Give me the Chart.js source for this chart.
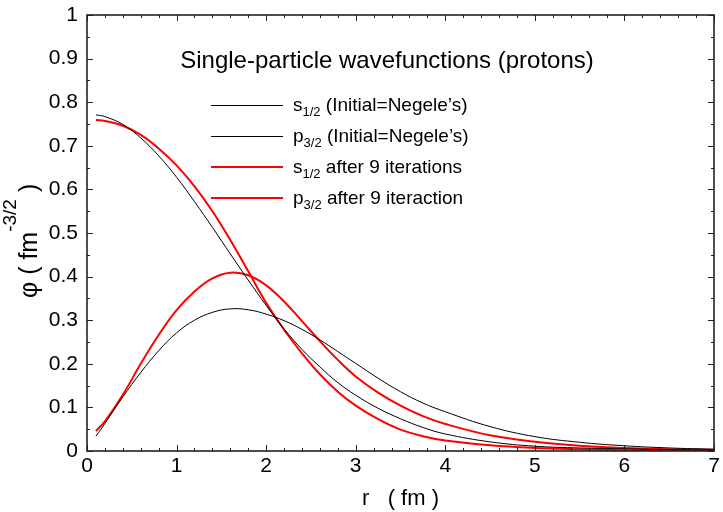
<!DOCTYPE html>
<html>
<head>
<meta charset="utf-8">
<script src="https://cdn.jsdelivr.net/npm/chart.js@4/dist/chart.umd.min.js"></script>
<style>
  html, body { margin: 0; padding: 0; background: #fff; }
  #wrap { width: 723px; height: 512px; }
</style>
</head>
<body>
<div id="wrap"><canvas id="wf" width="723" height="512"></canvas></div>
<script>
// radial grid (fm) shared by all four curves
const rValues  = [0.1, 0.2, 0.4, 0.6, 0.8, 1.0, 1.2, 1.4, 1.6, 1.8, 2.0, 2.2, 2.4, 2.6, 2.8, 3.0, 3.25, 3.5, 3.75, 4.0, 4.5, 5.0, 5.5, 6.0, 6.5, 7.0];

// phi values
const sInitial = [0.771, 0.767, 0.749, 0.718, 0.677, 0.628, 0.572, 0.513, 0.452, 0.392, 0.334, 0.280, 0.233, 0.193, 0.157, 0.128, 0.098, 0.074, 0.054, 0.039, 0.021, 0.011, 0.007, 0.005, 0.003, 0.002];
const pInitial = [0.034, 0.063, 0.124, 0.180, 0.230, 0.271, 0.300, 0.318, 0.326, 0.324, 0.314, 0.299, 0.279, 0.255, 0.228, 0.201, 0.167, 0.136, 0.110, 0.090, 0.056, 0.033, 0.020, 0.012, 0.007, 0.004];
const sIter9   = [0.759, 0.757, 0.746, 0.725, 0.694, 0.655, 0.607, 0.550, 0.484, 0.412, 0.340, 0.278, 0.224, 0.176, 0.136, 0.104, 0.073, 0.049, 0.034, 0.024, 0.013, 0.007, 0.004, 0.002, 0.001, 0.001];
const pIter9   = [0.046, 0.068, 0.129, 0.200, 0.266, 0.323, 0.366, 0.396, 0.409, 0.403, 0.380, 0.343, 0.298, 0.252, 0.209, 0.171, 0.134, 0.104, 0.080, 0.062, 0.036, 0.021, 0.012, 0.007, 0.004, 0.003];

const xTickLabels = ['0', '1', '2', '3', '4', '5', '6', '7'];
const yTickLabels = ['0', '0.1', '0.2', '0.3', '0.4', '0.5', '0.6', '0.7', '0.8', '0.9', '1'];

// legend text: base letter, subscript, remainder
const legendBase = ['s', 'p', 's', 'p'];
const legendSub  = ['1/2', '3/2', '1/2', '3/2'];
const legendRest = [' (Initial=Negele\u2019s)', ' (Initial=Negele\u2019s)', ' after 9 iterations', ' after 9 iteraction'];

const chartTitle = 'Single-particle wavefunctions (protons)';
const xTitle = 'r   ( fm )';

const FONT = '"Liberation Sans", Arial, Helvetica, sans-serif';

function toPoints(ys) {
    return rValues.map((r, i) => ({ x: r, y: ys[i] }));
}

function line(ctx, x1, y1, x2, y2) {
    ctx.beginPath();
    ctx.moveTo(x1, y1);
    ctx.lineTo(x2, y2);
    ctx.stroke();
}

// frame, inward ticks on all sides, titles and the hand-drawn legend
const decorations = {
    id: 'decorations',
    afterDraw(chart) {
        const { ctx, chartArea: a, scales: { x, y } } = chart;
        ctx.save();

        ctx.strokeStyle = '#222';
        ctx.lineWidth = 1;
        for (let i = 0; i <= 35; i++) {
            const px = Math.round(x.getPixelForValue(i * 0.2)) + 0.5;
            const len = i % 5 === 0 ? 6 : 3;
            line(ctx, px, a.bottom, px, a.bottom - len);
            line(ctx, px, a.top, px, a.top + len);
        }
        for (let i = 0; i <= 20; i++) {
            const py = Math.round(y.getPixelForValue(i * 0.05)) + 0.5;
            const len = i % 2 === 0 ? 6 : 3;
            line(ctx, a.left, py, a.left + len, py);
            line(ctx, a.right, py, a.right - len, py);
        }
        ctx.lineWidth = 1.6;
        ctx.strokeRect(a.left, a.top, a.right - a.left, a.bottom - a.top);

        ctx.fillStyle = '#000';
        ctx.textBaseline = 'alphabetic';

        // title inside the plot
        ctx.font = '24px ' + FONT;
        ctx.textAlign = 'center';
        ctx.fillText(chartTitle, 387, 68);

        // x axis title
        ctx.font = '22px ' + FONT;
        ctx.fillText(xTitle, (a.left + a.right) / 2, 505);

        // y axis title, rotated, with superscript
        ctx.save();
        ctx.translate(37, 298);
        ctx.rotate(-Math.PI / 2);
        ctx.textAlign = 'left';
        ctx.font = '25px ' + FONT;
        let cx = 0;
        const t1 = '\u03c6 ( fm';
        ctx.fillText(t1, cx, 0);
        cx += ctx.measureText(t1).width;
        ctx.font = '19px ' + FONT;
        ctx.fillText('-3/2', cx, -21);
        cx += ctx.measureText('-3/2').width;
        ctx.font = '25px ' + FONT;
        ctx.fillText(' )', cx, 0);
        ctx.restore();

        // legend
        const lx1 = 211, lx2 = 283, tx = 293;
        const rows = [105, 136, 167, 198];
        chart.data.datasets.forEach((ds, i) => {
            const ly = rows[i];
            ctx.strokeStyle = ds.borderColor;
            ctx.lineWidth = ds.borderWidth;
            const off = ds.borderWidth % 2 ? 0.5 : 0;
            line(ctx, lx1, ly + off, lx2, ly + off);
            ctx.textAlign = 'left';
            let px = tx;
            ctx.font = '19px ' + FONT;
            ctx.fillText(legendBase[i], px, ly + 6);
            px += ctx.measureText(legendBase[i]).width;
            ctx.font = '13px ' + FONT;
            ctx.fillText(legendSub[i], px, ly + 11);
            px += ctx.measureText(legendSub[i]).width;
            ctx.font = '19px ' + FONT;
            ctx.fillText(legendRest[i], px, ly + 6);
        });

        ctx.restore();
    }
};

const ctx = document.getElementById('wf').getContext('2d');
new Chart(ctx, {
    type: 'line',
    data: {
        datasets: [
            { label: 's1/2 initial', data: toPoints(sInitial), borderColor: '#000000', borderWidth: 1 },
            { label: 'p3/2 initial', data: toPoints(pInitial), borderColor: '#000000', borderWidth: 1 },
            { label: 's1/2 iter 9', data: toPoints(sIter9), borderColor: '#ff0000', borderWidth: 2 },
            { label: 'p3/2 iter 9', data: toPoints(pIter9), borderColor: '#ff0000', borderWidth: 2 }
        ]
    },
    options: {
        responsive: false,
        animation: false,
        devicePixelRatio: 1,
        layout: { padding: { left: 0, right: 9, top: 15, bottom: 0 } },
        elements: {
            point: { radius: 0 },
            line: { tension: 0.4, fill: false }
        },
        plugins: {
            legend: { display: false },
            tooltip: { enabled: false }
        },
        scales: {
            x: {
                type: 'linear',
                min: 0, max: 7,
                grid: { display: false, drawTicks: false },
                border: { display: false },
                ticks: {
                    stepSize: 1,
                    padding: 3,
                    color: '#000',
                    font: { family: FONT, size: 21 },
                    maxRotation: 0,
                    callback: (v) => xTickLabels[Math.round(v)]
                },
                afterFit: (s) => { s.height = 61; s.paddingLeft = 0; s.paddingRight = 0; }
            },
            y: {
                type: 'linear',
                min: 0, max: 1,
                grid: { display: false, drawTicks: false },
                border: { display: false },
                ticks: {
                    stepSize: 0.1,
                    padding: 9,
                    color: '#000',
                    font: { family: FONT, size: 21 },
                    callback: (v) => yTickLabels[Math.round(v * 10)]
                },
                afterFit: (s) => { s.width = 87; s.paddingTop = 0; s.paddingBottom = 0; }
            }
        }
    },
    plugins: [decorations]
});
</script>
</body>
</html>
